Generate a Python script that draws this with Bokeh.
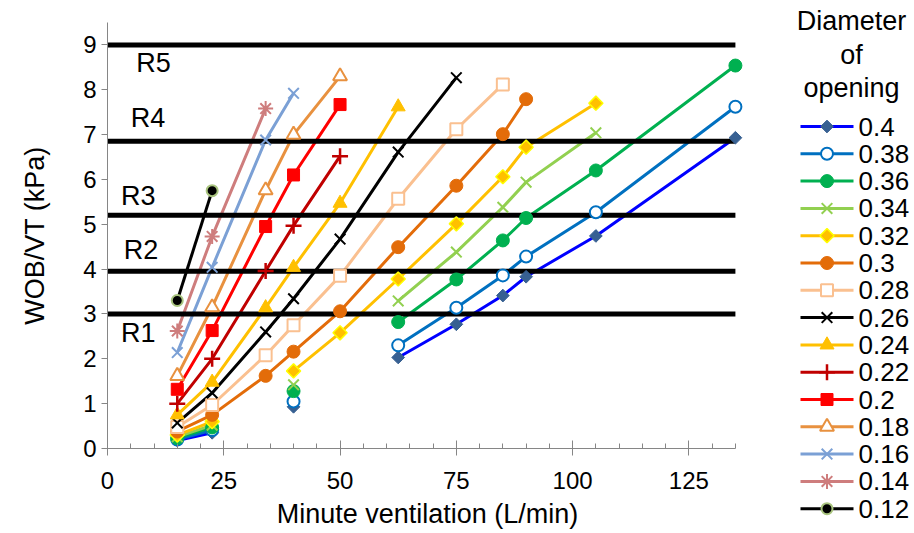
import math
from bokeh.plotting import figure
from bokeh.layouts import row
from bokeh.models import Label, Range1d, FixedTicker
from bokeh.core.properties import value
from bokeh.embed import file_html
from bokeh.resources import INLINE

nan = math.nan

# Minute ventilation (L/min) at which WOB/VT was measured
ventilation = [15, 22.5, 34, 40, 50, 62.5, 75, 85, 90, 105, 135]

# WOB/VT (kPa) per opening diameter; nan = not measured (breaks the line)
wob_040 = [0.18, 0.35, nan, 0.93, nan, 2.03, 2.77, 3.41, 3.83, 4.74, 6.93]
wob_038 = [0.20, 0.41, nan, 1.05, nan, 2.30, 3.14, 3.86, 4.28, 5.27, 7.62]
wob_036 = [0.23, 0.47, nan, 1.28, nan, 2.82, 3.77, 4.64, 5.14, 6.20, 8.54]
wob_034 = [0.26, 0.52, nan, 1.42, nan, 3.29, 4.38, 5.38, 5.94, 7.04, nan]
wob_032 = [0.30, 0.60, nan, 1.73, 2.58, 3.78, 5.01, 6.06, 6.72, 7.70, nan]
wob_030 = [0.38, 0.75, 1.62, 2.16, 3.06, 4.49, 5.86, 7.01, 7.79, nan, nan]
wob_028 = [0.48, 0.97, 2.08, 2.75, 3.85, 5.57, 7.12, 8.12, nan, nan, nan]
wob_026 = [0.57, 1.24, 2.60, 3.34, 4.67, 6.61, 8.27, nan, nan, nan, nan]
wob_024 = [0.75, 1.48, 3.14, 4.04, 5.47, 7.62, nan, nan, nan, nan, nan]
wob_022 = [1.00, 2.00, 3.96, 4.97, 6.52, nan, nan, nan, nan, nan, nan]
wob_020 = [1.32, 2.63, 4.95, 6.10, 7.67, nan, nan, nan, nan, nan, nan]
wob_018 = [1.62, 3.15, 5.76, 7.00, 8.30, nan, nan, nan, nan, nan, nan]
wob_016 = [2.14, 4.04, 6.88, 7.92, nan, nan, nan, nan, nan, nan, nan]
wob_014 = [2.62, 4.73, 7.58, nan, nan, nan, nan, nan, nan, nan, nan]
wob_012 = [3.30, 5.75, nan, nan, nan, nan, nan, nan, nan, nan, nan]

diameters = ["0.4", "0.38", "0.36", "0.34", "0.32", "0.3", "0.28", "0.26",
             "0.24", "0.22", "0.2", "0.18", "0.16", "0.14", "0.12"]
series = [wob_040, wob_038, wob_036, wob_034, wob_032, wob_030, wob_028, wob_026,
          wob_024, wob_022, wob_020, wob_018, wob_016, wob_014, wob_012]

# Respiratory effort thresholds R1..R5 (kPa)
threshold_names = ["R1", "R2", "R3", "R4", "R5"]
threshold_levels = [3.0, 3.95, 5.2, 6.85, 9.0]

legend_title = ["Diameter", "of", "opening"]

X_MAX = 135

# line colour, marker, marker size, fill, marker outline, outline width, angle
styles = [
    ("#0000FF", "square",   9, "#376092", "#376092", 1.0, math.pi / 4),
    ("#0070C0", "circle",  12, "white",   "#0070C0", 2.0, 0),
    ("#00B050", "circle",  13, "#00B050", "#00B050", 1.0, 0),
    ("#92D050", "x",       15, None,      "#92D050", 2.0, 0),
    ("#FFC000", "square",  10, "#FFC000", "#FFFF00", 1.5, math.pi / 4),
    ("#E36C09", "circle",  13, "#E36C09", "#E36C09", 1.0, 0),
    ("#FAC090", "square",  12, "white",   "#FAC090", 2.0, 0),
    ("#000000", "x",       15, None,      "#000000", 2.0, 0),
    ("#FFC000", "triangle", 14, "#FFC000", "#FFC000", 1.0, 0),
    ("#C00000", "cross",   16, None,      "#C00000", 2.5, 0),
    ("#FF0000", "square",  12, "#FF0000", "#FF0000", 1.0, 0),
    ("#E8913F", "triangle", 14, "white",  "#E8913F", 2.0, 0),
    ("#7BA0D5", "x",       15, None,      "#7BA0D5", 2.0, 0),
    ("#CE7D7D", "asterisk", 15, None,     "#CE7D7D", 2.0, 0),
    ("#000000", "circle",  11, "#000000", "#A9C47F", 2.0, 0),
]

FONT = "Liberation Sans"

# ---------------- main chart ----------------
# a little room past the last tick so the end markers are not cut
p = figure(width=760, height=533, output_backend="svg", toolbar_location=None,
           x_range=Range1d(0, 137.6), y_range=Range1d(0, 9.5),
           min_border_left=107, min_border_right=13,
           min_border_top=22, min_border_bottom=85)
p.outline_line_color = None
p.grid.visible = False
p.frame_align = False

p.xaxis.ticker = FixedTicker(ticks=[0, 25, 50, 75, 100, 125],
                             minor_ticks=list(range(0, X_MAX + 1, 5)))
p.xaxis.bounds = (0, X_MAX)
p.yaxis.ticker = FixedTicker(ticks=list(range(0, 10)), minor_ticks=[])
for ax in (p.xaxis, p.yaxis):
    ax.axis_line_color = "#868686"
    ax.major_tick_line_color = "#868686"
    ax.minor_tick_line_color = "#868686"
    ax.major_label_text_font = FONT
    ax.major_label_text_font_size = "24px"
    ax.major_label_text_color = "black"
    ax.axis_label_text_font = FONT
    ax.axis_label_text_font_size = "27px"
    ax.axis_label_text_font_style = "normal"
    ax.axis_label_text_color = "black"
p.xaxis.major_tick_in = 8
p.xaxis.major_tick_out = 7
p.xaxis.minor_tick_in = 5
p.xaxis.minor_tick_out = 0
p.xaxis.major_label_standoff = 16
p.xaxis.axis_label_standoff = 7
p.yaxis.major_tick_in = 0
p.yaxis.major_tick_out = 6
p.yaxis.major_label_standoff = 5
p.yaxis.axis_label_standoff = 30
p.xaxis.axis_label = "Minute ventilation (L/min)"
p.yaxis.axis_label = "WOB/VT (kPa)"

# series lines
for vals, st in zip(series, styles):
    p.line(ventilation, vals, line_color=st[0], line_width=3)

# threshold lines across the whole ventilation axis
n = len(threshold_levels)
p.segment(x0=[0] * n, x1=[X_MAX] * n, y0=threshold_levels, y1=threshold_levels,
          line_color="black", line_width=5)

# markers on top of all lines
for vals, st in zip(series, styles):
    color, marker, size, fill, edge, lw, angle = st
    p.scatter(ventilation, vals, marker=marker, size=size, angle=angle,
              fill_color=fill, line_color=edge, line_width=lw)

# threshold names
label_pos = [(6.6, 2.57), (7.2, 4.42), (6.6, 5.63), (8.7, 7.37), (9.9, 8.59)]
for name, (lx, ly) in zip(threshold_names, label_pos):
    p.add_layout(Label(x=lx, y=ly, text=name, text_align="center",
                       text_baseline="middle", text_font=FONT,
                       text_font_size="27px", text_color="black"))

# ---------------- legend panel (pixel coordinates, y downwards) ----------------
lg = figure(width=154, height=533, output_backend="svg", toolbar_location=None,
            x_range=Range1d(0, 154), y_range=Range1d(533, 0),
            x_axis_location=None, y_axis_location=None,
            min_border_left=0, min_border_right=0,
            min_border_top=0, min_border_bottom=0)
lg.outline_line_color = None
lg.grid.visible = False
lg.frame_align = False

lg.text(x=[91] * len(legend_title), y=[20, 54, 87], text=legend_title,
        text_align="center", text_baseline="middle",
        text_font=value(FONT), text_font_size="27px", text_color="black")

row_y = [126 + 27.3 * i for i in range(len(diameters))]
for d, yy, st in zip(diameters, row_y, styles):
    color, marker, size, fill, edge, lw, angle = st
    lg.segment(x0=[40], x1=[93], y0=[yy], y1=[yy], line_color=color, line_width=3)
    lg.scatter([66.5], [yy], marker=marker, size=size, angle=angle,
               fill_color=fill, line_color=edge, line_width=lw)
lg.text(x=[98] * len(diameters), y=row_y, text=diameters,
        text_align="left", text_baseline="middle",
        text_font=value(FONT), text_font_size="26px", text_color="black")

layout = row(p, lg, spacing=0)
open("out.html", "w").write(file_html(layout, INLINE))
